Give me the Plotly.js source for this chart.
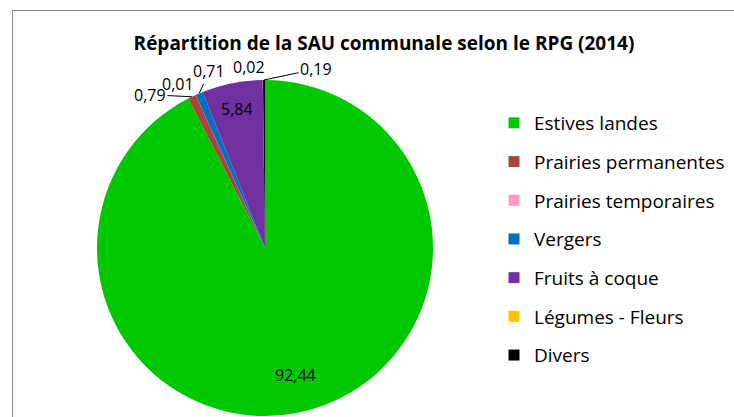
<!DOCTYPE html>
<html>
<head>
<meta charset="utf-8">
<script src="https://cdn.plot.ly/plotly-3.0.1.min.js"></script>
<style>
html,body{margin:0;padding:0;background:#fff;overflow:hidden;}
#chart{position:absolute;left:0;top:0;width:734px;height:417px;}
#frame{position:absolute;left:12px;top:10px;width:900px;height:600px;border-left:1px solid #8a8a8a;border-top:1px solid #8a8a8a;pointer-events:none;z-index:10;}
</style>
</head>
<body>
<div id="chart"></div>
<div id="frame"></div>
<script>
const categories = ["Estives landes", "Prairies permanentes", "Prairies temporaires", "Vergers", "Fruits à coque", "Légumes - Fleurs", "Divers"];
const values = [92.44, 0.79, 0.01, 0.71, 5.84, 0.02, 0.19];
const colors = ["#00C800", "#A9443F", "#FF99CC", "#0070C0", "#7030A0", "#FFC000", "#000000"];

// label placement (layout only): inside -> radius fraction; outside -> pixel offset of text from slice edge
const labelInside = [true, false, false, false, true, false, false];
const labelRadius = [0.78, 1, 1, 1, 0.845, 1, 1];
const labelAx = [0, -42, -18, 10, 0, -14, 52];
const labelAy = [0, -2, -11, -22, 0, -13, -11];
const labelLine = [false, true, false, true, false, false, true];

const FONT = "'Open Sans', sans-serif";
const W = 734, H = 417;
const cx = 265, cy = 248, R = 168;   // pie geometry in pixels
const textLabels = values.map(v => v.toFixed(2).replace(".", ","));

const traces = [{
  type: "pie",
  labels: categories,
  values: values,
  textinfo: "none",
  sort: false,
  direction: "clockwise",
  rotation: 0,
  marker: {colors: colors, line: {width: 0}},
  automargin: false,
  showlegend: false,
  hoverinfo: "label+value",
  domain: {x: [(cx - R) / W, (cx + R) / W], y: [(H - cy - R) / H, (H - cy + R) / H]}
}];

// Legend entries, one group each, built from the same arrays
categories.forEach((c, i) => {
  traces.push({
    type: "scatter",
    x: [null], y: [null],
    mode: "markers",
    name: c,
    legendgroup: "g" + i,
    marker: {symbol: "square", size: 11, color: colors[i]},
    hoverinfo: "skip",
    showlegend: true
  });
});

// data labels derived from the values (mid-angle of each slice)
const total = values.reduce((a, b) => a + b, 0);
let cum = 0;
const annotations = values.map((v, i) => {
  const mid = (cum + v / 2) / total * 2 * Math.PI;
  cum += v;
  const r = R * labelRadius[i];
  const px = cx + r * Math.sin(mid);
  const py = cy - r * Math.cos(mid);
  const a = {
    x: px / W, y: 1 - py / H, xref: "paper", yref: "paper",
    text: textLabels[i],
    font: {family: FONT, size: 16, color: "#000"},
    xanchor: "center", yanchor: "middle"
  };
  if (labelInside[i]) {
    a.showarrow = false;
  } else {
    a.showarrow = true;
    a.ax = labelAx[i]; a.ay = labelAy[i];
    a.arrowhead = 0; a.arrowwidth = 1; a.standoff = 0;
    a.arrowcolor = labelLine[i] ? "#000" : "rgba(0,0,0,0)";
  }
  return a;
});

const layout = {
  width: W, height: H,
  margin: {l: 0, r: 0, t: 0, b: 0},
  paper_bgcolor: "#fff",
  plot_bgcolor: "rgba(0,0,0,0)",
  title: {
    text: "<b>Répartition de la SAU communale selon le RPG (2014)</b>",
    font: {family: FONT, size: 19, color: "#000"},
    x: 384 / W, xanchor: "center",
    y: 1 - 43 / H, yanchor: "middle"
  },
  xaxis: {visible: false},
  yaxis: {visible: false},
  showlegend: true,
  annotations: annotations,
  legend: {
    x: 494 / W, xanchor: "left",
    y: 1 - 104 / H, yanchor: "top",
    font: {family: FONT, size: 19, color: "#000"},
    tracegroupgap: 11,
    bgcolor: "rgba(0,0,0,0)",
    itemclick: false, itemdoubleclick: false
  }
};

Plotly.newPlot("chart", traces, layout, {displayModeBar: false, staticPlot: true});
</script>
</body>
</html>
